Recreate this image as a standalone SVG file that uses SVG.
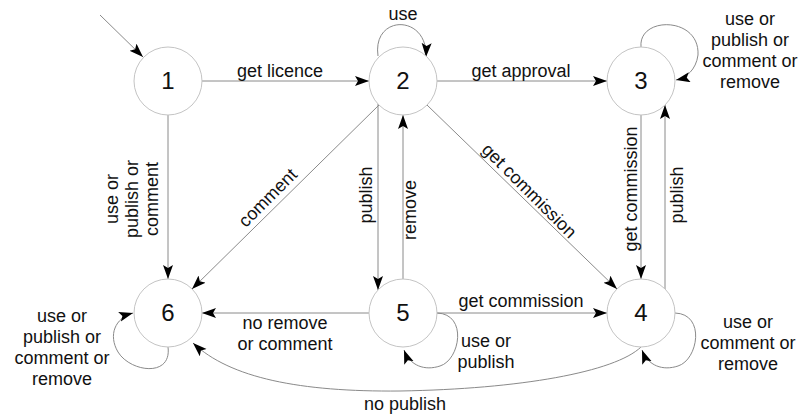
<svg xmlns="http://www.w3.org/2000/svg" width="805" height="417" viewBox="0 0 805 417">
<defs>
<marker id="arr" markerUnits="userSpaceOnUse" markerWidth="16" markerHeight="12" refX="14" refY="5" orient="auto">
<path d="M0,0 L14,5 L0,10 L3,5 z" fill="#000"/>
</marker>
<style>
.node circle{fill:#fff;stroke:#c4c4c4;stroke-width:1}
.node text{font-family:"Liberation Sans",Arial,sans-serif;font-size:24px;fill:#111;text-anchor:middle}
.edge{fill:none;stroke:#8a8a8a;stroke-width:1;marker-end:url(#arr)}
.plain{fill:none;stroke:#8a8a8a;stroke-width:1}
.lbl{font-family:"Liberation Sans",Arial,sans-serif;font-size:18px;fill:#111;text-anchor:middle}
</style>
</defs>
<rect width="805" height="417" fill="#fff"/>
<g id="connectors">
<path class="edge" d="M100,15 L143,57"/>
<path class="edge" d="M202,81 L369,81"/>
<path class="edge" d="M378,56 C372,14 428,14 426,57"/>
<path class="edge" d="M437,81 L607,81"/>
<path class="edge" d="M641,47 C638,16 700,16 698,55 C696,70 686,78 676,80"/>
<path class="edge" d="M168,115 L168,279"/>
<path class="edge" d="M379,105 L192,289"/>
<path class="edge" d="M378,104 L378,290"/>
<path class="edge" d="M403,279 L403,115"/>
<path class="edge" d="M427,105 L617,289"/>
<path class="edge" d="M641,115 L641,279"/>
<path class="edge" d="M665,289 L665,105"/>
<path class="edge" d="M437,313 L607,313"/>
<path class="edge" d="M369,313 L202,313"/>
<path class="edge" d="M437,313 C468,314 460,360 440,366 C425,371 410,366 404,350"/>
<path class="edge" d="M675,313 C706,314 698,360 678,366 C663,371 648,366 642,350"/>
<path class="edge" d="M168,347 C172,378 130,372 118,352 C108,335 115,318 133,313"/>
<path class="edge" d="M641,347 C615,372 520,389 400,391 C300,392 230,378 193,343"/>
</g>
<g id="edge-labels">
<text class="lbl" x="280" y="77">get licence</text>
<text class="lbl" x="403" y="20">use</text>
<text class="lbl" x="521" y="77">get approval</text>
<text class="lbl" x="750" y="25">use or</text>
<text class="lbl" x="750" y="46">publish or</text>
<text class="lbl" x="750" y="67">comment or</text>
<text class="lbl" x="750" y="88">remove</text>
<text class="lbl" transform="translate(118,199) rotate(-90)">use or</text>
<text class="lbl" transform="translate(138,199) rotate(-90)">publish or</text>
<text class="lbl" transform="translate(158,199) rotate(-90)">comment</text>
<text class="lbl" transform="translate(272,202) rotate(-45)">comment</text>
<text class="lbl" transform="translate(372,195) rotate(-90)">publish</text>
<text class="lbl" transform="translate(416,210) rotate(-90)">remove</text>
<text class="lbl" transform="translate(525,195) rotate(45)">get commission</text>
<text class="lbl" transform="translate(637,189) rotate(-90)">get commission</text>
<text class="lbl" transform="translate(683,195) rotate(-90)">publish</text>
<text class="lbl" x="521" y="307">get commission</text>
<text class="lbl" x="285" y="329">no remove</text>
<text class="lbl" x="285" y="350">or comment</text>
<text class="lbl" x="486" y="347">use or</text>
<text class="lbl" x="486" y="368">publish</text>
<text class="lbl" x="748" y="328">use or</text>
<text class="lbl" x="748" y="349">comment or</text>
<text class="lbl" x="748" y="370">remove</text>
<text class="lbl" x="62" y="322">use or</text>
<text class="lbl" x="62" y="343">publish or</text>
<text class="lbl" x="62" y="364">comment or</text>
<text class="lbl" x="62" y="385">remove</text>
<text class="lbl" x="405" y="410">no publish</text>
</g>
<g id="node1" class="node"><circle cx="168" cy="81" r="34"/><text x="168" y="89">1</text></g>
<g id="node2" class="node"><circle cx="403" cy="81" r="34"/><text x="403" y="89">2</text></g>
<g id="node3" class="node"><circle cx="641" cy="81" r="34"/><text x="641" y="89">3</text></g>
<g id="node4" class="node"><circle cx="641" cy="313" r="34"/><text x="641" y="321">4</text></g>
<g id="node5" class="node"><circle cx="403" cy="313" r="34"/><text x="403" y="321">5</text></g>
<g id="node6" class="node"><circle cx="168" cy="313" r="34"/><text x="168" y="321">6</text></g>
</svg>
